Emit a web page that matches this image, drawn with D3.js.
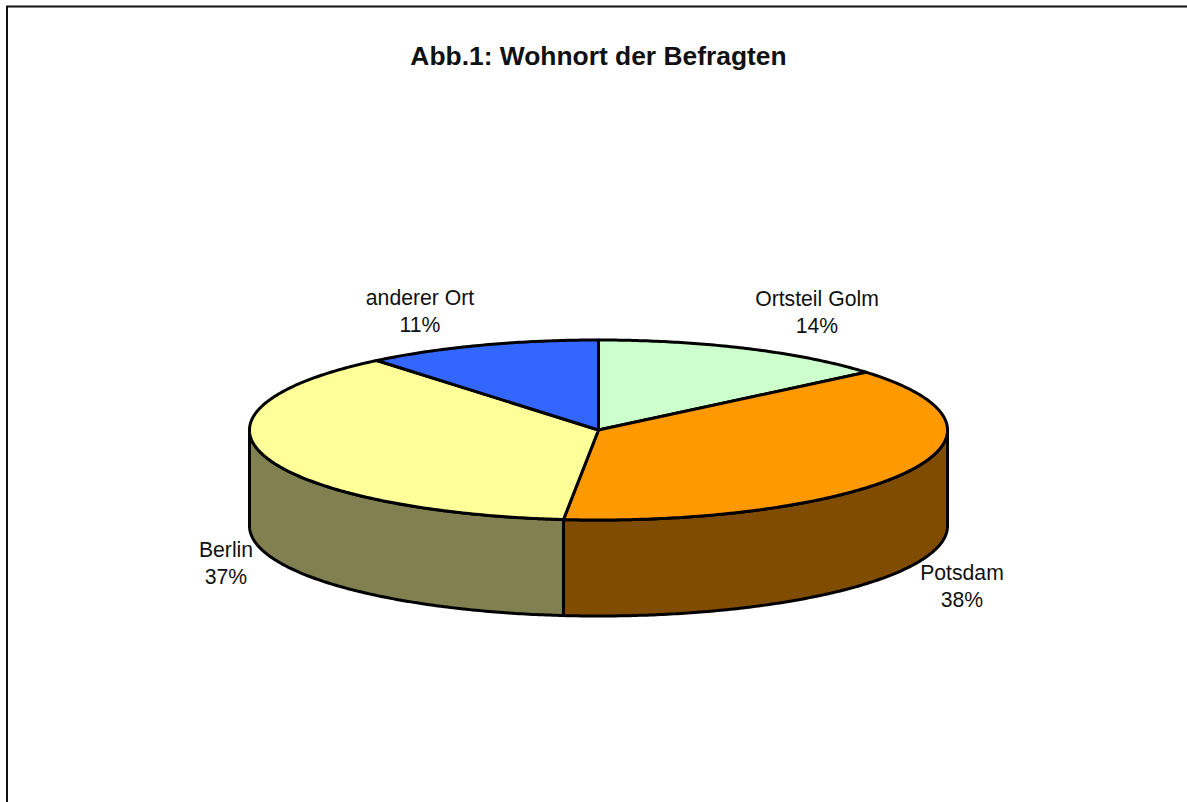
<!DOCTYPE html>
<html><head><meta charset="utf-8">
<script src="https://cdnjs.cloudflare.com/ajax/libs/d3/7.8.5/d3.min.js"></script>
<style>html,body{margin:0;padding:0;background:#fff}svg{display:block}text{font-family:"Liberation Sans",Arial,sans-serif;fill:#111}</style>
</head><body><svg id="c" width="1187" height="802"></svg>
<script>
const titleText = "Abb.1: Wohnort der Befragten";
const categories = ["Ortsteil Golm", "Potsdam", "Berlin", "anderer Ort"];
const values = [13.9, 37.7, 37.45, 10.95];
const topColors = ["#CCFFCC", "#FF9900", "#FFFF99", "#3366FF"];
const sideColors = ["#668066", "#804C00", "#808050", "#1A3380"];

const labelAnchors = [[817,306],[962,580],[226,557],[420,305]];
const cx = 598.5, cy = 430, rx = 349, ry = 90, depth = 96;

const svg = d3.select("#c");
svg.append("path").attr("d","M1187 6.5H7V802").attr("fill","none").attr("stroke","#111").attr("stroke-width",2);
svg.append("text").attr("x",598.5).attr("y",65).attr("text-anchor","middle")
  .attr("font-size",26.4).attr("font-weight","bold").text(titleText);

const arcs = d3.pie().sort(null).value(d=>d.v)(values.map((v,i)=>({v,i})));
const px = d3.scaleLinear().domain([-1,1]).range([cx-rx,cx+rx]);
const py = d3.scaleLinear().domain([-1,1]).range([cy-ry,cy+ry]);
const line = d3.line().x(d=>d[0]).y(d=>d[1]);
const pt = (t,dy=0)=>[px(Math.sin(t)),py(-Math.cos(t))+dy];
const samples = (a,b,dy=0)=>{const n=Math.max(2,Math.ceil(Math.abs(b-a)/0.01));
  return d3.range(n+1).map(k=>pt(a+(b-a)*k/n,dy));};

const stroke = {stroke:"#000","stroke-width":3,"stroke-linejoin":"round"};
function style(sel){Object.entries(stroke).forEach(([k,v])=>sel.attr(k,v));return sel;}

// side walls: visible where the rim faces the viewer (pi/2 .. 3pi/2)
arcs.forEach(a=>{
  const s=Math.max(a.startAngle,Math.PI/2), e=Math.min(a.endAngle,3*Math.PI/2);
  if(e<=s) return;
  const pts=samples(s,e).concat(samples(e,s,depth));
  style(svg.append("path")).attr("d",line(pts)+"Z").attr("fill",sideColors[a.data.i]);
});
// top faces
arcs.forEach(a=>{
  const pts=[[cx,cy]].concat(samples(a.startAngle,a.endAngle));
  style(svg.append("path")).attr("d",line(pts)+"Z").attr("fill",topColors[a.data.i]);
});
// labels
arcs.forEach(a=>{
  const i=a.data.i,[x,y]=labelAnchors[i];
  const t=svg.append("text").attr("text-anchor","middle").attr("font-size",21.2);
  t.append("tspan").attr("x",x).attr("y",y).text(categories[i]);
  t.append("tspan").attr("x",x).attr("y",y+27.3).text(Math.round(values[i])+"%");
});
</script></body></html>
